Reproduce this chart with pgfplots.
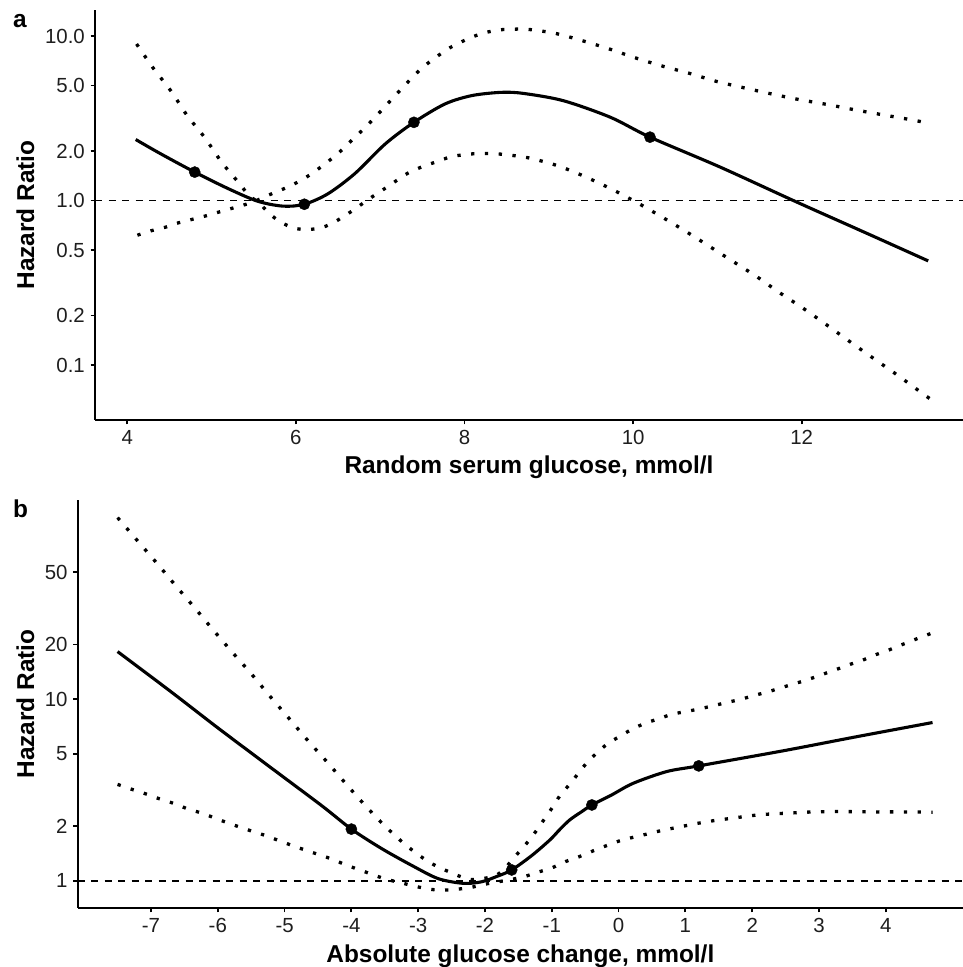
\documentclass[border=0pt]{standalone}
\usepackage{pgfplots}
\pgfplotsset{compat=1.18}
\usepackage{fontspec}
\setmainfont{Liberation Sans}
\definecolor{tickgray}{HTML}{1E1E1E}

\pgfplotstableread{
x y
4.10 2.35
4.40 1.92
4.80 1.49
5.20 1.18
5.55 0.99
5.85 0.925
6.10 0.95
6.38 1.10
6.70 1.46
7.06 2.21
7.40 2.99
7.77 3.87
8.09 4.35
8.44 4.55
8.70 4.48
9.17 4.05
9.73 3.21
10.20 2.43
11.03 1.60
11.94 0.98
12.81 0.62
13.50 0.43
}\mainA

\pgfplotstableread{
x y
4.11 8.95
4.31 6.36
4.52 4.62
4.71 3.29
4.92 2.41
5.12 1.71
5.33 1.27
5.44 1.08
5.57 0.96
5.69 0.83
5.82 0.74
5.98 0.68
6.14 0.667
6.31 0.686
6.46 0.742
6.62 0.834
6.74 0.92
6.90 1.05
7.04 1.17
7.20 1.33
7.33 1.47
7.49 1.60
7.65 1.71
7.83 1.84
7.99 1.90
8.14 1.93
8.30 1.93
8.46 1.91
8.64 1.86
8.80 1.80
9.12 1.62
9.44 1.39
9.75 1.17
10.05 0.97
10.34 0.796
10.62 0.652
10.90 0.529
11.19 0.425
11.47 0.344
11.74 0.275
12.02 0.221
12.30 0.175
12.57 0.139
12.85 0.110
13.13 0.0873
13.40 0.0692
13.52 0.0625
}\ciAone

\pgfplotstableread{
x y
4.12 0.616
4.28 0.655
4.44 0.686
4.60 0.731
4.76 0.767
4.93 0.807
5.09 0.853
5.25 0.90
5.41 0.95
5.57 1.02
5.73 1.11
5.89 1.20
6.04 1.31
6.19 1.46
6.33 1.65
6.46 1.86
6.58 2.11
6.70 2.43
6.82 2.77
6.93 3.18
7.05 3.69
7.17 4.31
7.29 5.00
7.40 5.75
7.53 6.61
7.66 7.42
7.80 8.34
7.95 9.15
8.10 9.91
8.25 10.5
8.41 10.9
8.58 11.0
8.74 11.0
9.07 10.4
9.40 9.36
9.72 8.34
10.03 7.36
10.36 6.54
10.67 5.93
10.99 5.30
11.32 4.84
11.64 4.45
11.97 4.11
12.30 3.84
12.62 3.57
12.95 3.33
13.28 3.11
13.50 2.96
}\ciAtwo

\pgfplotstableread{
x y
-7.50 18.3
-6.70 11.0
-5.99 6.92
-5.20 4.19
-4.44 2.59
-4.00 1.93
-3.55 1.51
-3.10 1.22
-2.70 1.03
-2.32 0.97
-2.05 0.99
-1.82 1.06
-1.60 1.15
-1.30 1.38
-1.03 1.68
-0.88 1.92
-0.73 2.17
-0.55 2.41
-0.40 2.62
-0.10 2.98
0.22 3.45
0.72 4.00
1.20 4.30
2.47 5.21
3.56 6.22
4.70 7.45
}\mainB

\pgfplotstableread{
x y
-7.50 100.0
-7.19 73.7
-6.91 56.0
-6.63 42.2
-6.34 31.7
-6.07 24.1
-5.78 18.1
-5.49 13.7
-5.21 10.3
-4.93 7.82
-4.65 5.92
-4.36 4.50
-4.08 3.42
-3.80 2.62
-3.50 2.01
-3.17 1.56
-2.82 1.26
-2.43 1.08
-2.22 1.02
-2.03 1.03
-1.82 1.08
-1.67 1.21
-1.53 1.39
-1.39 1.59
-1.25 1.85
-1.13 2.14
-1.00 2.51
-0.88 2.94
-0.74 3.38
-0.61 3.88
-0.48 4.45
-0.33 5.05
-0.17 5.67
0.01 6.23
0.21 6.87
0.40 7.38
0.59 7.79
0.80 8.27
1.00 8.55
1.21 8.85
1.42 9.22
1.63 9.62
1.83 10.0
2.03 10.5
2.24 11.0
2.44 11.6
2.64 12.2
2.85 12.9
3.05 13.7
3.24 14.5
3.45 15.5
3.65 16.4
3.85 17.6
4.05 18.7
4.26 20.1
4.46 21.5
4.70 23.2
}\ciBup

\pgfplotstableread{
x y
-7.50 3.40
-7.26 3.17
-7.06 3.00
-6.87 2.83
-6.67 2.68
-6.47 2.51
-6.27 2.38
-6.07 2.24
-5.87 2.10
-5.67 1.98
-5.47 1.87
-5.27 1.77
-5.07 1.66
-4.87 1.56
-4.67 1.47
-4.47 1.39
-4.27 1.31
-4.07 1.22
-3.87 1.15
-3.67 1.08
-3.47 1.02
-3.27 0.98
-3.07 0.94
-2.86 0.904
-2.65 0.89
-2.43 0.90
-2.22 0.92
-2.00 0.96
-1.80 0.99
-1.60 1.02
-1.40 1.06
-1.20 1.12
-1.00 1.18
-0.79 1.28
-0.59 1.36
-0.39 1.46
-0.19 1.56
0.01 1.66
0.22 1.74
0.42 1.81
0.63 1.89
0.84 1.96
1.05 2.03
1.26 2.10
1.47 2.16
1.68 2.21
1.88 2.26
2.09 2.31
2.30 2.34
2.51 2.36
2.71 2.38
2.93 2.40
3.34 2.41
3.76 2.40
4.18 2.40
4.70 2.39
}\ciBlo

\pgfplotsset{
  mainline/.style={black, line width=3.1bp, smooth},
  ciline/.style={black, line width=3.3bp, smooth, dash pattern=on 3.3bp off 10.5bp},
  refline/.style={black, line width=1.5bp, dash pattern=on 7bp off 6.5bp},
  knots/.style={only marks, mark=*, mark size=5.6bp, black},
}

\begin{document}
\begin{tikzpicture}
\path[use as bounding box] (0,0) rectangle (963bp,967bp);

% Panel a
\begin{axis}[
  ymode=log,
  scale only axis,
  axis lines=left,
  axis line style={-, line width=1.8bp, black},
  tick align=outside,
  major tick length=4.5bp,
  tick style={line width=1.8bp, black},
  yminorticks=false,
  xminorticks=false,
  tick label style={font=\fontsize{20.5}{24}\selectfont, text=tickgray},
  xticklabel style={anchor=base, inner sep=0pt, yshift=-20.5bp},
  yticklabel style={anchor=east, inner sep=0pt, xshift=-5.5bp},
  label style={font=\bfseries\fontsize{24.5}{28}\selectfont, text=black},
  at={(95bp,547bp)}, anchor=south west,
  width=868bp, height=410bp,
  xmin=3.617, xmax=13.913, ymin=0.0464, ymax=14.4,
  xtick={4,6,8,10,12}, xticklabels={4,6,8,10,12},
  ytick={0.1,0.2,0.5,1,2,5,10},
  yticklabels={0.1,0.2,0.5,1.0,2.0,5.0,10.0},
  xlabel={Random serum glucose, mmol/l},
  ylabel={Hazard Ratio},
  xlabel style={at={(axis description cs:0.5,-0.1305)}, anchor=base},
  ylabel style={at={(axis description cs:-0.07005,0.5)}, anchor=base},
]
\addplot[refline] coordinates {(3.617,1) (13.913,1)};
\addplot[ciline] table[x=x,y=y] {\ciAone};
\addplot[ciline] table[x=x,y=y] {\ciAtwo};
\addplot[mainline] table[x=x,y=y] {\mainA};
\addplot[knots] coordinates {(4.8,1.49) (6.1,0.95) (7.4,2.99) (10.2,2.43)};
\end{axis}

% Panel b
\begin{axis}[
  ymode=log,
  scale only axis,
  axis lines=left,
  axis line style={-, line width=1.8bp, black},
  tick align=outside,
  major tick length=4.5bp,
  tick style={line width=1.8bp, black},
  yminorticks=false,
  xminorticks=false,
  tick label style={font=\fontsize{20.5}{24}\selectfont, text=tickgray},
  xticklabel style={anchor=base, inner sep=0pt, yshift=-20.5bp},
  yticklabel style={anchor=east, inner sep=0pt, xshift=-5.5bp},
  label style={font=\bfseries\fontsize{24.5}{28}\selectfont, text=black},
  at={(77.7bp,59bp)}, anchor=south west,
  width=885.3bp, height=408bp,
  xmin=-8.097, xmax=5.156, ymin=0.710, ymax=125,
  xtick={-7,-6,-5,-4,-3,-2,-1,0,1,2,3,4},
  xticklabels={{-7},{-6},{-5},{-4},{-3},{-2},{-1},{0},{1},{2},{3},{4}},
  ytick={1,2,5,10,20,50},
  yticklabels={1,2,5,10,20,50},
  xlabel={Absolute glucose change, mmol/l},
  ylabel={Hazard Ratio},
  xlabel style={at={(axis description cs:0.5,-0.1336)}, anchor=base},
  ylabel style={at={(axis description cs:-0.04914,0.5)}, anchor=base},
]
\addplot[refline] coordinates {(-8.097,1) (5.156,1)};
\addplot[ciline] table[x=x,y=y] {\ciBup};
\addplot[ciline] table[x=x,y=y] {\ciBlo};
\addplot[mainline] table[x=x,y=y] {\mainB};
\addplot[knots] coordinates {(-4,1.93) (-1.6,1.15) (-0.4,2.62) (1.2,4.3)};
\end{axis}

\node[anchor=base west, inner sep=0pt, font=\bfseries\fontsize{24.5}{28}\selectfont] at (13bp,939bp) {a};
\node[anchor=base west, inner sep=0pt, font=\bfseries\fontsize{24.5}{28}\selectfont] at (13bp,449bp) {b};
\end{tikzpicture}
\end{document}
